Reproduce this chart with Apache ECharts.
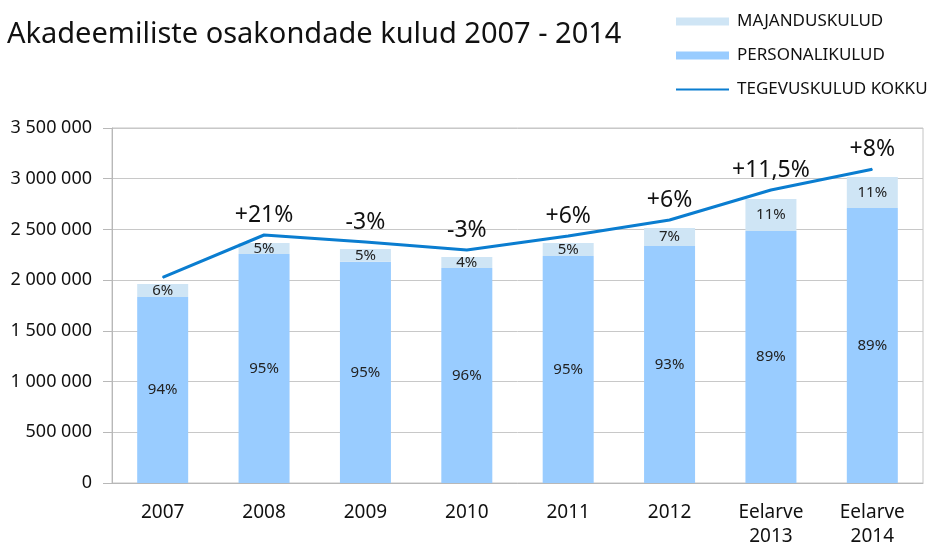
<!DOCTYPE html>
<html>
<head>
<meta charset="utf-8">
<script src="https://cdn.jsdelivr.net/npm/echarts@6/dist/echarts.min.js"></script>
<style>
html, body { margin: 0; padding: 0; background: #fff; }
#main { width: 931px; height: 545px; }
</style>
</head>
<body>
<div id="main"></div>
<script>
var myChart = echarts.init(document.getElementById('main'), null, {renderer: 'canvas'});

// andmed (loetud pildilt)
var aastad = ['2007', '2008', '2009', '2010', '2011', '2012', 'Eelarve\n2013', 'Eelarve\n2014'];
var personalikulud = [1834000, 2258000, 2182000, 2120000, 2238000, 2337000, 2485000, 2711000];
var majanduskulud = [128000, 108000, 125000, 108000, 128000, 177000, 315000, 306000];
var tegevuskulud = [2028000, 2445000, 2376000, 2297000, 2435000, 2593000, 2889000, 3093000];
var personaliProtsent = ['94%', '95%', '95%', '96%', '95%', '93%', '89%', '89%'];
var majandusProtsent = ['6%', '5%', '5%', '4%', '5%', '7%', '11%', '11%'];
var muutus = ['', '+21%', '-3%', '-3%', '+6%', '+6%', '+11,5%', '+8%'];

var font = 'Noto Sans';

var option = {
    backgroundColor: '#fff',
    animation: false,
    title: {
        text: 'Akadeemiliste osakondade kulud 2007 - 2014',
        left: 2,
        top: 15,
        textStyle: {fontFamily: font, fontSize: 29, fontWeight: 'normal', color: '#111'}
    },
    legend: {
        orient: 'vertical',
        left: 670,
        top: 8,
        itemWidth: 53,
        itemHeight: 8,
        itemGap: 17,
        textStyle: {fontFamily: font, fontSize: 17, color: '#111', padding: [0, 0, 0, 3]},
        data: [
            {name: 'MAJANDUSKULUD', icon: 'rect'},
            {name: 'PERSONALIKULUD', icon: 'rect'},
            {name: 'TEGEVUSKULUD KOKKU', itemStyle: {opacity: 0}}
        ]
    },
    grid: {
        left: 112,
        right: 8,
        top: 128,
        bottom: 62,
        outerBoundsMode: 'none',
        show: true,
        borderColor: '#c4c4c4',
        borderWidth: 1
    },
    xAxis: {
        type: 'category',
        data: aastad,
        axisLine: {lineStyle: {color: '#b8b8b8'}},
        axisTick: {length: 8, lineStyle: {color: '#b8b8b8'}},
        axisLabel: {fontFamily: font, fontSize: 19, color: '#111', margin: 18, lineHeight: 24}
    },
    yAxis: {
        type: 'value',
        min: 0,
        max: 3500000,
        interval: 500000,
        axisLine: {show: true, lineStyle: {color: '#b8b8b8'}},
        axisTick: {show: true, length: 9, lineStyle: {color: '#b8b8b8'}},
        splitLine: {lineStyle: {color: '#c8c8c8'}},
        axisLabel: {
            fontFamily: font, fontSize: 18, color: '#111', margin: 20,
            formatter: function (v) {
                return String(v).replace(/\B(?=(\d{3})+(?!\d))/g, ' ');
            }
        }
    },
    series: [
        {
            name: 'PERSONALIKULUD',
            type: 'bar',
            stack: 'kulud',
            barWidth: 51,
            itemStyle: {color: '#99ccff'},
            label: {
                show: true,
                position: 'inside',
                fontFamily: font, fontSize: 15, color: '#222',
                formatter: function (p) { return personaliProtsent[p.dataIndex]; }
            },
            data: personalikulud
        },
        {
            name: 'MAJANDUSKULUD',
            type: 'bar',
            stack: 'kulud',
            barWidth: 51,
            itemStyle: {color: '#cfe5f5'},
            label: {
                show: true,
                position: 'inside',
                fontFamily: font, fontSize: 15, color: '#222',
                formatter: function (p) { return majandusProtsent[p.dataIndex]; }
            },
            data: majanduskulud
        },
        {
            name: 'TEGEVUSKULUD KOKKU',
            type: 'line',
            symbol: 'circle',
            symbolSize: 1,
            lineStyle: {color: '#0a7dd0', width: 3},
            itemStyle: {color: '#0a7dd0'},
            label: {
                show: true,
                position: 'top',
                distance: 8,
                fontFamily: font, fontSize: 23, color: '#111',
                formatter: function (p) { return muutus[p.dataIndex]; }
            },
            data: tegevuskulud
        }
    ]
};

myChart.setOption(option);
</script>
</body>
</html>
